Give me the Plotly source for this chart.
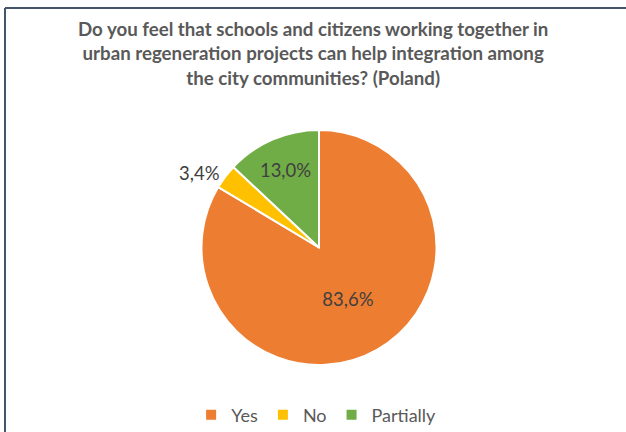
import plotly.graph_objects as go

W, H = 626, 432

labels = ["Yes", "No", "Partially"]
values = [83.6, 3.4, 13.0]
text_labels = ["83,6%", "3,4%", "13,0%"]
colors = ["#ED7D31", "#FFC000", "#70AD47"]

cx, cy, r = 319, 247.5, 117.5  # pixel centre/radius of the pie

fig = go.Figure()

fig.add_trace(go.Pie(
    labels=labels,
    values=values,
    text=text_labels,
    textinfo="text",
    textposition=["inside", "outside", "inside"],
    insidetextorientation="horizontal",
    sort=False,
    direction="clockwise",
    rotation=0,
    marker=dict(colors=colors, line=dict(color="white", width=2)),
    textfont=dict(family="Lato", size=18.5, color="#404040"),
    outsidetextfont=dict(family="Lato", size=18.5, color="#404040"),
    domain=dict(x=[(cx - r) / W, (cx + r) / W], y=[1 - (cy + r) / H, 1 - (cy - r) / H]),
))

fig.update_layout(
    width=W, height=H,
    margin=dict(l=0, r=0, t=0, b=0, autoexpand=False),
    paper_bgcolor="white",
    font=dict(family="Lato", color="#595959"),
    annotations=[dict(
        text="<b>Do you feel that schools and citizens working together in<br>"
             "urban regeneration projects can help integration among<br>"
             "the city communities? (Poland)</b>",
        xref="paper", yref="paper", x=0.5, xanchor="center", y=1 - 16 / H, yanchor="top",
        showarrow=False, align="center",
        font=dict(family="Lato", size=18.7, color="#595959"),
    )],
    legend=dict(
        orientation="h", x=0.505, xanchor="center", y=1 - 415 / H, yanchor="middle",
        font=dict(family="Lato", size=18, color="#595959"),
        itemwidth=30,
    ),
    shapes=[
        dict(type="line", xref="paper", yref="paper", x0=5 / W, x1=1, y0=1 - 8 / H, y1=1 - 8 / H,
             line=dict(color="#44546A", width=2)),
        dict(type="line", xref="paper", yref="paper", x0=5 / W, x1=5 / W, y0=0, y1=1 - 8 / H,
             line=dict(color="#44546A", width=2)),
    ],
)

fig.write_html("out.html", post_script="document.body.style.margin='0';",
               config={"displayModeBar": False})
